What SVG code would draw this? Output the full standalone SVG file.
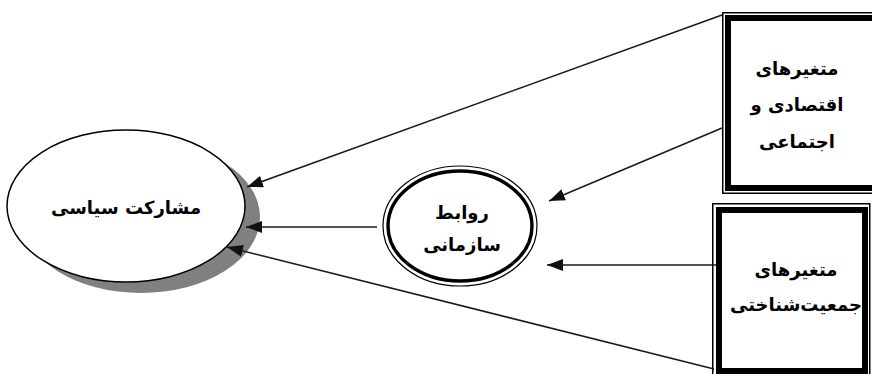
<svg xmlns="http://www.w3.org/2000/svg" width="872" height="374" viewBox="0 0 872 374">
<defs>
<style>
.lbl{font-family:"DejaVu Sans",sans-serif;font-weight:bold;font-size:18px;fill:#000;text-anchor:middle}
.edge{stroke:#1a1a1a;stroke-width:1.6;fill:none}
.thin{fill:none;stroke:#000;stroke-width:1.5}
.thick{fill:none;stroke:#000;stroke-width:6}
</style>
<marker id="ah" viewBox="0 0 16 12" refX="16" refY="6" markerWidth="16" markerHeight="12" markerUnits="userSpaceOnUse" orient="auto">
<path d="M0,0 L16,6 L0,12 Z" fill="#111"/>
</marker>
</defs>
<rect width="872" height="374" fill="#fff"/>
<g id="node-participation">
<ellipse cx="141" cy="217" rx="119" ry="76" fill="#808080"/>
<ellipse cx="126" cy="206" rx="119" ry="76" fill="#fff" stroke="#000" stroke-width="1.5"/>
<text class="lbl" x="126" y="214">مشارکت سیاسی</text>
</g>
<g id="node-org-relations">
<ellipse cx="460" cy="226" rx="77" ry="60" fill="#fff" stroke="#000" stroke-width="1.2"/>
<ellipse cx="460" cy="226" rx="72" ry="55" fill="none" stroke="#000" stroke-width="3.4"/>
<text class="lbl" x="462" y="219">روابط</text>
<text class="lbl" x="462" y="251">سازمانی</text>
</g>
<g id="node-econ-social">
<rect x="722.75" y="12.75" width="160" height="180.5" class="thin" fill="#fff"/>
<rect x="728" y="18" width="160" height="170" class="thick"/>
<text class="lbl" x="797" y="75">متغیرهای</text>
<text class="lbl" x="797" y="111">اقتصادی و</text>
<text class="lbl" x="797" y="148">اجتماعی</text>
</g>
<g id="node-demographic">
<rect x="712.75" y="203.75" width="157" height="180" class="thin"/>
<rect x="719" y="210" width="146" height="161" class="thick"/>
<text class="lbl" x="796" y="276">متغیرهای</text>
<text class="lbl" x="796" y="311" font-size="17">جمعیت‌شناختی</text>
</g>
<g id="connectors">
<line class="edge" x1="722" y1="15" x2="247" y2="187" marker-end="url(#ah)"/>
<line class="edge" x1="722" y1="128" x2="549" y2="201" marker-end="url(#ah)"/>
<line class="edge" x1="716" y1="265" x2="547" y2="265" marker-end="url(#ah)"/>
<line class="edge" x1="377" y1="227" x2="246" y2="227" marker-end="url(#ah)"/>
<line class="edge" x1="714" y1="369" x2="227" y2="247" marker-end="url(#ah)"/>
</g>
</svg>
